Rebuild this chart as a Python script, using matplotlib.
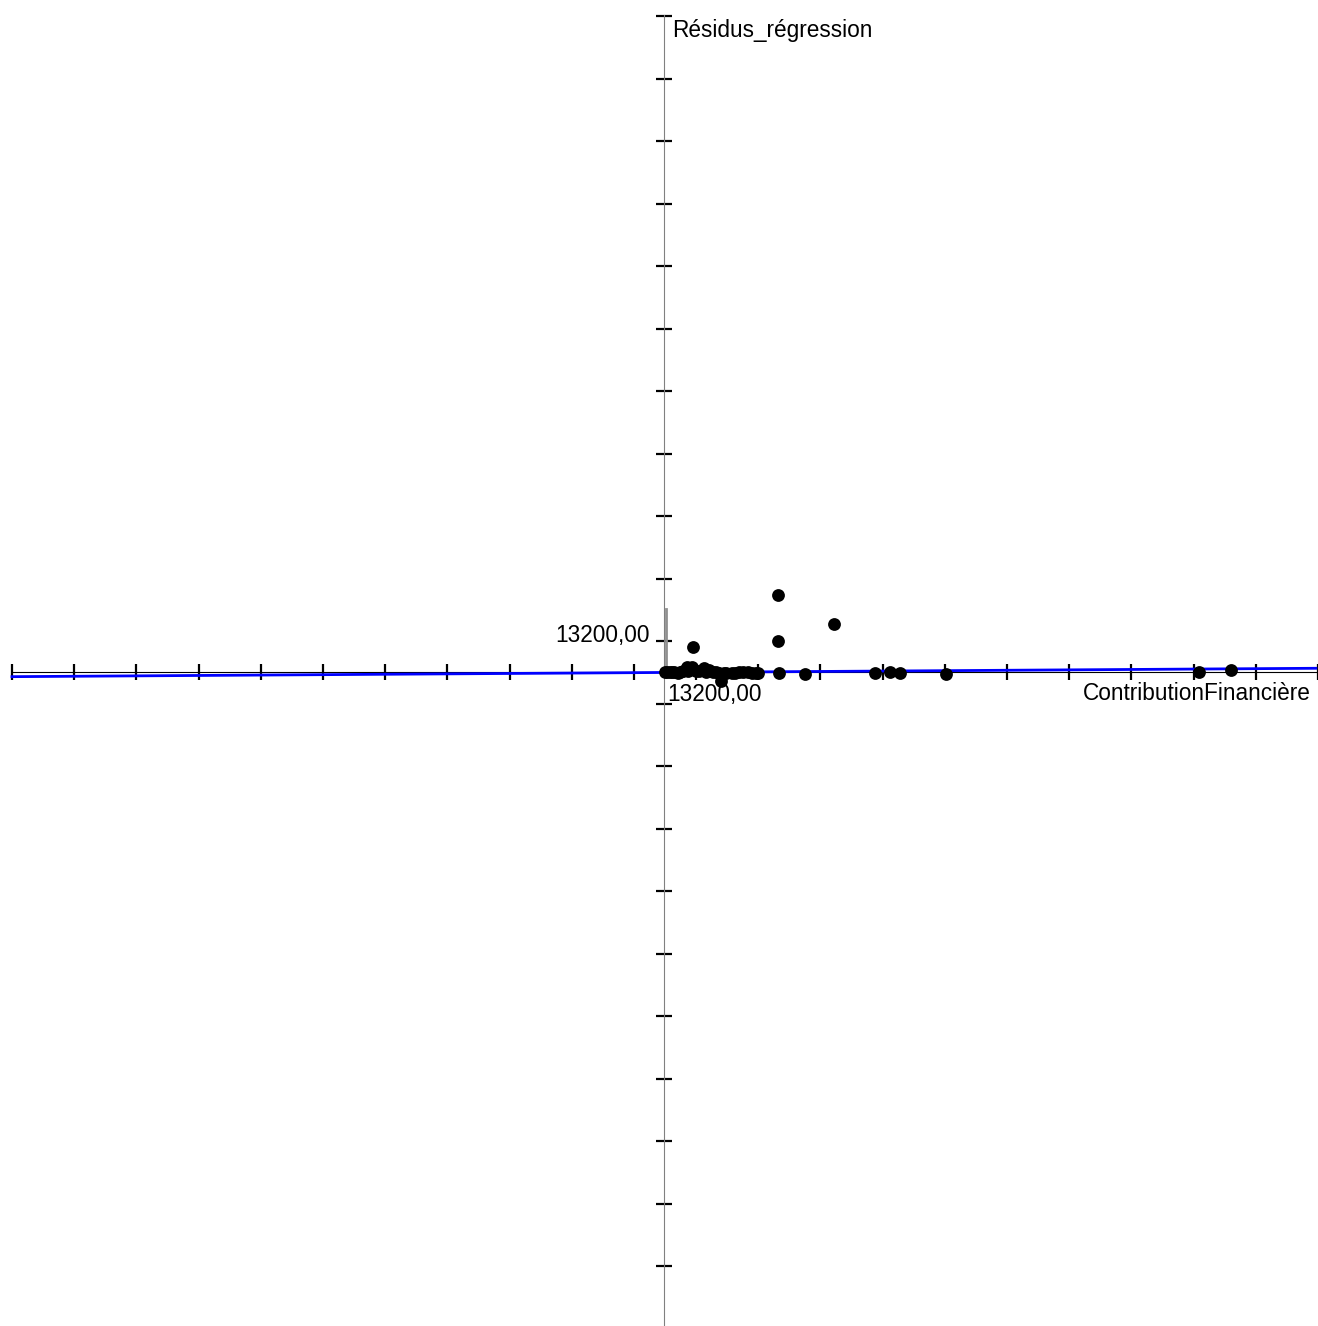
import matplotlib
matplotlib.use('Agg')
import matplotlib.pyplot as plt
import numpy as np

plt.rcParams['font.family'] = ['Liberation Sans', 'DejaVu Sans']

# ContributionFinancière vs Résidus_régression
contribution = [636, 1271, 2119, 2967, 4026, 4874, 5933, 6781, 8476, 9536,
                10383, 11655, 12015, 13138, 14409, 15893, 17800, 19495, 6209,
                24305, 24305, 36172, 24369, 30026, 44860, 48038, 50157, 59820,
                113516, 120297,
                300, 1700, 3500, 5200, 7500, 9000, 11000, 12700, 15000, 16800, 18600, 19900]
residus = [0, 0, 0, -106, 211, 1119, 1056, 211, 908, 422,
           0, -211, -1901, -211, -106, 0, 0, -211, 5217,
           16262, 6547, 10138, -211, -422, -275, 63, -275, -422,
           63, 422,
           0, -100, 100, 300, 200, 100, 0, -300, -200, -100, -150, -250]

# droite de régression
intercept = -100
pente = 0.0064

unite = 13200
x_min, x_max = -140914, 138371
y_min, y_max = -138125, 141926
x_axe0 = -138370
ticks_x = x_axe0 + unite * np.arange(0, 22)
ticks_y = (672 - 16.3) * 211.2 - unite * np.arange(0, 21)

fig = plt.figure(figsize=(13.18, 13.26), dpi=100)
ax = fig.add_axes([0, 0, 1, 1])
ax.set_xlim(x_min, x_max)
ax.set_ylim(y_min, y_max)

ax.spines['left'].set_position(('data', 0))
ax.spines['bottom'].set_position(('data', 0))
ax.spines['right'].set_visible(False)
ax.spines['top'].set_visible(False)
ax.spines['left'].set_color('#808080')
ax.spines['left'].set_bounds(y_min, (672 - 15) * 211.2)
ax.spines['bottom'].set_bounds(x_axe0, x_max)
ax.spines['bottom'].set_color('black')

ax.set_xticks(ticks_x)
ax.set_yticks(ticks_y)
ax.tick_params(direction='inout', length=11, width=1.6, color='black',
               labelbottom=False, labelleft=False)

# segment unité
ax.plot([424, 424], [0, unite], color='#909090', lw=2)

xr = np.array([x_axe0, x_max])
ax.plot(xr, intercept + pente * xr, color='#0000ff', lw=2, zorder=3)
ax.scatter(contribution, residus, s=85, color='black', zorder=4, linewidths=0)

W, H = 1318, 1326
fs = 16.3
fig.text(672 / W, 1 - 30 / H, 'Résidus_régression', fontsize=fs, ha='left', va='center')
fig.text(650 / W, 1 - 635 / H, '13200,00', fontsize=fs, ha='right', va='center')
fig.text(667 / W, 1 - 695 / H, '13200,00', fontsize=fs, ha='left', va='center')
fig.text(1311 / W, 1 - 693 / H, 'ContributionFinancière', fontsize=fs, ha='right', va='center')

fig.savefig('out.png', dpi=100)
